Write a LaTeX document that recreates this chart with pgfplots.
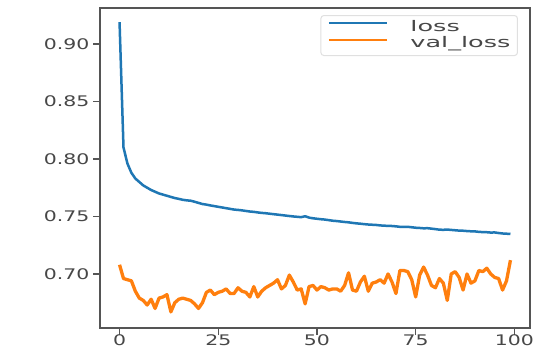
\documentclass[border=0pt]{standalone}
\usepackage{pgfplots}
\pgfplotsset{compat=1.18}
\usepackage{pgfplotstable}
\usepackage{fontspec}
\setmainfont{DejaVu Sans}[FakeStretch=1.4]
\newfontfamily\legendfont{DejaVu Sans}[FakeStretch=1.75]
\definecolor{tabblue}{HTML}{1F77B4}
\definecolor{taborange}{HTML}{FF7F0E}
\definecolor{spine}{HTML}{555555}

\pgfplotstableread{
ep loss
0 0.919
1 0.810
2 0.796
3 0.788
4 0.783
5 0.780
6 0.777
7 0.775
8 0.773
9 0.7715
10 0.770
11 0.769
12 0.768
13 0.767
14 0.766
15 0.7653
16 0.7645
17 0.764
18 0.7637
19 0.7628
20 0.7618
21 0.7608
22 0.7603
23 0.7596
24 0.7590
25 0.7584
26 0.7578
27 0.7572
28 0.7566
29 0.7560
30 0.7557
31 0.7553
32 0.7548
33 0.7543
34 0.7540
35 0.7535
36 0.7531
37 0.7528
38 0.7524
39 0.7520
40 0.7516
41 0.7512
42 0.7508
43 0.7504
44 0.7500
45 0.7497
46 0.7494
47 0.7502
48 0.7490
49 0.7484
50 0.7480
51 0.7476
52 0.7473
53 0.7468
54 0.7463
55 0.7460
56 0.7456
57 0.7452
58 0.7449
59 0.7444
60 0.7440
61 0.7437
62 0.7433
63 0.7430
64 0.7428
65 0.7426
66 0.7422
67 0.7420
68 0.7418
69 0.7417
70 0.7414
71 0.7410
72 0.7409
73 0.7410
74 0.7406
75 0.7402
76 0.7400
77 0.7397
78 0.7398
79 0.7394
80 0.7390
81 0.7385
82 0.7384
83 0.7386
84 0.7383
85 0.7380
86 0.7377
87 0.7376
88 0.7373
89 0.7371
90 0.7370
91 0.7366
92 0.7364
93 0.7363
94 0.7360
95 0.7361
96 0.7356
97 0.7352
98 0.7350
99 0.7348
}\losstable

\pgfplotstableread{
ep val
0 0.708
1 0.696
2 0.695
3 0.694
4 0.685
5 0.679
6 0.677
7 0.673
8 0.678
9 0.670
10 0.679
11 0.680
12 0.682
13 0.667
14 0.675
15 0.678
16 0.679
17 0.678
18 0.677
19 0.674
20 0.670
21 0.675
22 0.684
23 0.686
24 0.682
25 0.684
26 0.685
27 0.687
28 0.683
29 0.683
30 0.688
31 0.685
32 0.684
33 0.680
34 0.689
35 0.680
36 0.685
37 0.688
38 0.690
39 0.692
40 0.695
41 0.687
42 0.690
43 0.699
44 0.693
45 0.686
46 0.687
47 0.674
48 0.689
49 0.690
50 0.686
51 0.689
52 0.688
53 0.686
54 0.687
55 0.687
56 0.685
57 0.690
58 0.701
59 0.686
60 0.685
61 0.693
62 0.698
63 0.685
64 0.692
65 0.693
66 0.695
67 0.692
68 0.700
69 0.693
70 0.683
71 0.703
72 0.703
73 0.702
74 0.695
75 0.680
76 0.699
77 0.706
78 0.699
79 0.690
80 0.688
81 0.696
82 0.692
83 0.677
84 0.700
85 0.702
86 0.697
87 0.686
88 0.700
89 0.692
90 0.694
91 0.703
92 0.702
93 0.705
94 0.700
95 0.697
96 0.696
97 0.686
98 0.694
99 0.712
}\valtable

\begin{document}
\begin{tikzpicture}
\useasboundingbox[fill=white] (0pt,0pt) rectangle (540pt,350pt);
\begin{axis}[
  at={(100pt,22pt)}, anchor=south west,
  scale only axis, width=430pt, height=320pt,
  xmin=-4.95, xmax=103.95, ymin=0.6530, ymax=0.9313,
  xtick={0,25,50,75,100},
  ytick={0.70,0.75,0.80,0.85,0.90},
  yticklabel style={/pgf/number format/.cd, fixed, fixed zerofill, precision=2},
  xticklabel style={yshift=4pt},
  /pgf/number format/assume math mode=true,
  tick align=outside, major tick length=7pt,
  tick style={spine, line width=1.4pt},
  xtick pos=bottom, ytick pos=left,
  axis line style={spine, line width=1.6pt},
  font=\fontsize{14.6}{17}\selectfont,
  tick label style={text=black!72},
  legend style={at={(0.972,0.978)}, anchor=north east,
    draw=black!12, line width=1pt, rounded corners=3pt, fill=white,
    inner xsep=7pt, inner ysep=5pt, row sep=3pt,
    nodes={inner sep=0pt, text height=10.5pt, text depth=3pt, text=black!72},
    font=\legendfont\fontsize{14.6}{17}\selectfont},
  legend cell align=left,
  legend image code/.code={\draw[#1, line width=1.8pt] (0pt,4pt) -- (58pt,4pt); \path (80pt,4pt);},
]
\addplot[tabblue, line width=2.5pt, line join=round] table[x=ep, y=loss] {\losstable};
\addlegendentry{loss}
\addplot[taborange, line width=3.3pt, line join=round] table[x=ep, y=val] {\valtable};
\addlegendentry{val\_loss}
\end{axis}
\end{tikzpicture}
\end{document}
